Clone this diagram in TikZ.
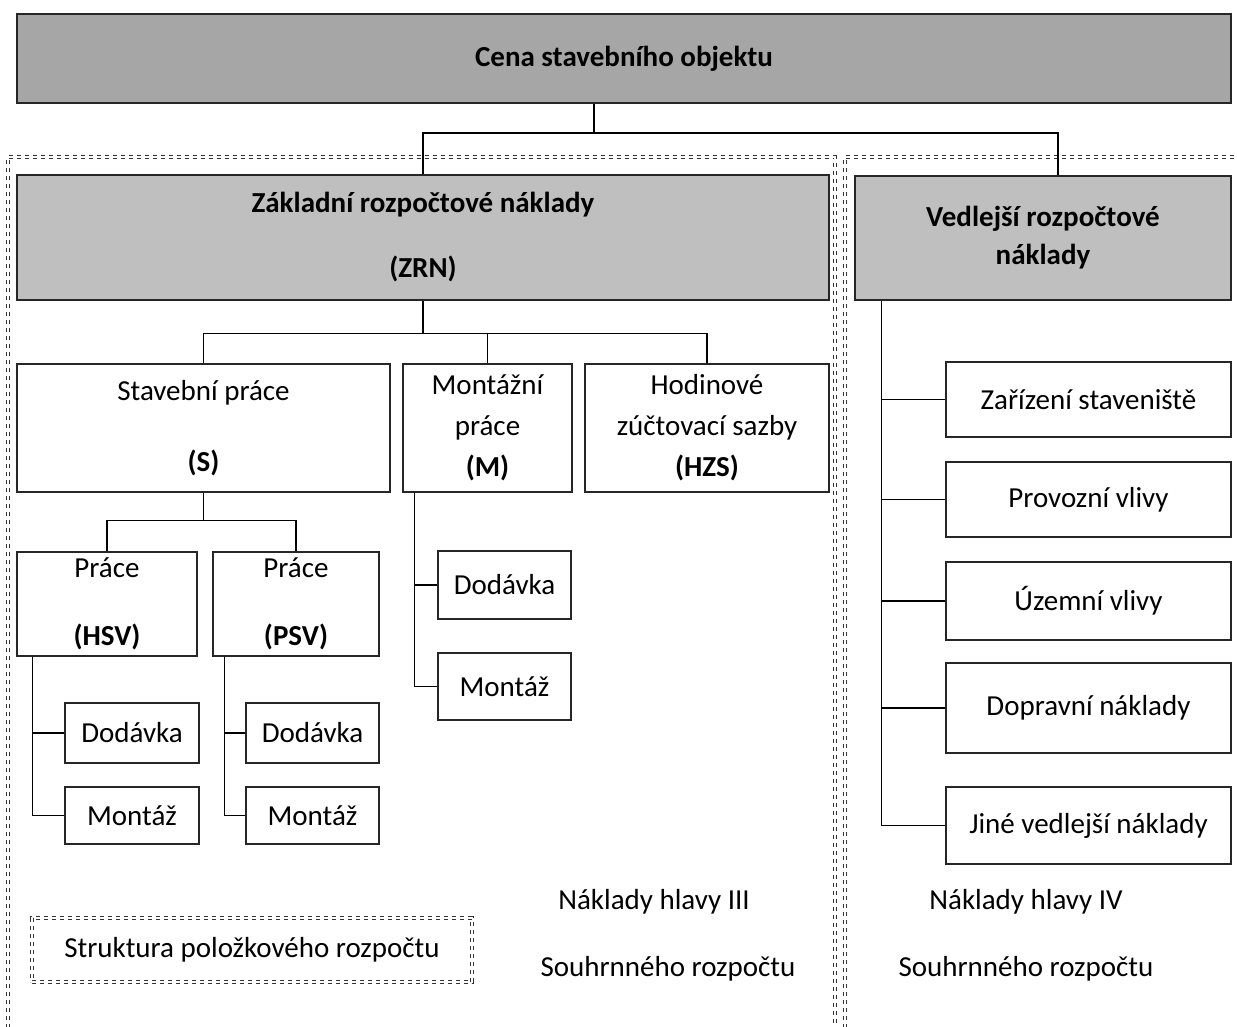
\documentclass[tikz,border=0pt]{standalone}
\usepackage{fontspec}
\setmainfont{Carlito}
\usetikzlibrary{calc}
\definecolor{graydark}{HTML}{A6A6A6}
\definecolor{graylight}{HTML}{BFBFBF}
\tikzset{
  box/.style={draw=black!85, line width=1.6pt, inner sep=0pt, align=center, fill=white},
  conn/.style={draw=black, line width=1.2pt},
  dframe/.style={draw=black!80, line width=1.2pt, double=white, double distance=1.8pt, dash pattern=on 4pt off 4pt},
  lbl/.style={inner sep=0pt, align=center}
}
\begin{document}
\begin{tikzpicture}[x=1pt, y=-1pt, font=\fontsize{29}{35}\selectfont]
\useasboundingbox (0,0) rectangle (1237,1027);
% frames
\begin{scope}
\clip (0,0) rectangle (1237,1027);
\draw[dframe] (8,1060) |- (835,157) -- (835,1060);
\draw[dframe] (845,1060) |- (1260,157);
\end{scope}
% top
\node[box, fill=graydark, minimum width=1214pt, minimum height=89pt] (top) at (624,58.5) {\textbf{Cena stavebního objektu}};
\node[box, fill=graylight, minimum width=812pt, minimum height=125pt] (zrn) at (423,237.5) {\textbf{Základní rozpočtové náklady}\\[30pt]\textbf{(ZRN)}};
\node[box, fill=graylight, minimum width=376pt, minimum height=124pt] (vrn) at (1043,238) {\textbf{Vedlejší rozpočtové}\\[3pt]\textbf{náklady}};
% level 2
\node[box, minimum width=373pt, minimum height=128pt] (S) at (203.5,428) {Stavební práce\\[36pt]\textbf{(S)}};
\node[box, minimum width=169pt, minimum height=128pt] (M) at (487.5,428) {Montážní\\[6pt]práce\\[6pt]\textbf{(M)}};
\node[box, minimum width=244pt, minimum height=128pt] (HZS) at (707,428) {Hodinové\\[6pt]zúčtovací sazby\\[6pt]\textbf{(HZS)}};
% level 3
\node[box, minimum width=180pt, minimum height=104pt] (HSV) at (107,604) {Práce\\[33pt]\textbf{(HSV)}};
\node[box, minimum width=166pt, minimum height=104pt] (PSV) at (296,604) {Práce\\[33pt]\textbf{(PSV)}};
\node[box, minimum width=134pt, minimum height=60pt] (hsvD) at (132,733) {Dodávka};
\node[box, minimum width=134pt, minimum height=57pt] (hsvM) at (132,815.5) {Montáž};
\node[box, minimum width=133pt, minimum height=60pt] (psvD) at (312.5,733) {Dodávka};
\node[box, minimum width=133pt, minimum height=57pt] (psvM) at (312.5,815.5) {Montáž};
\node[box, minimum width=133pt, minimum height=68pt] (mD) at (504.5,585) {Dodávka};
\node[box, minimum width=133pt, minimum height=67pt] (mM) at (504.5,686.5) {Montáž};
% VRN items
\node[box, minimum width=285pt, minimum height=75pt] (vZ) at (1088.5,399.5) {Zařízení staveniště};
\node[box, minimum width=285pt, minimum height=75pt] (vP) at (1088.5,499.5) {Provozní vlivy};
\node[box, minimum width=285pt, minimum height=78pt] (vU) at (1088.5,601) {Územní vlivy};
\node[box, minimum width=285pt, minimum height=90pt] (vD) at (1088.5,708) {Dopravní náklady};
\node[box, minimum width=285pt, minimum height=77pt] (vJ) at (1088.5,825.5) {Jiné vedlejší náklady};
% connectors
\coordinate (tj) at (594,133);
\draw[conn] (top.south -| tj) -- (tj);
\draw[conn] (zrn.north) |- (tj) -| ([xshift=15pt]vrn.north);
\draw[conn] (zrn.south) -- ++(0,33) coordinate (zj);
\draw[conn] (S.north) |- (zj) -| (HZS.north);
\draw[conn] (M.north) -- (M.north |- zj);
\draw[conn] (S.south) -- ++(0,28) coordinate (sj);
\draw[conn] (HSV.north) |- (sj) -| (PSV.north);
\draw[conn] ([xshift=16pt]HSV.south west) |- (hsvM.west);
\draw[conn] (hsvD.west) -- ++(-32,0);
\draw[conn] ([xshift=12pt]PSV.south west) |- (psvM.west);
\draw[conn] (psvD.west) -- ++(-21,0);
\draw[conn] ([xshift=12pt]M.south west) |- (mM.west);
\draw[conn] (mD.west) -- ++(-23,0);
\draw[conn] ([xshift=27pt]vrn.south west) |- (vJ.west);
\foreach \n in {vZ,vP,vU,vD} \draw[conn] (\n.west) -- ++(-64,0);
% labels
\node[lbl] (hIII) at (654,902) {Náklady hlavy III};
\node[lbl] (sIII) at (668,969) {Souhrnného rozpočtu};
\node[lbl] (hIV) at (1026,902) {Náklady hlavy IV};
\node[lbl] (sIV) at (1026,969) {Souhrnného rozpočtu};
\node[dframe, inner sep=0pt, minimum width=440pt, minimum height=64pt] (leg) at (252,950) {Struktura položkového rozpočtu};
\end{tikzpicture}
\end{document}
